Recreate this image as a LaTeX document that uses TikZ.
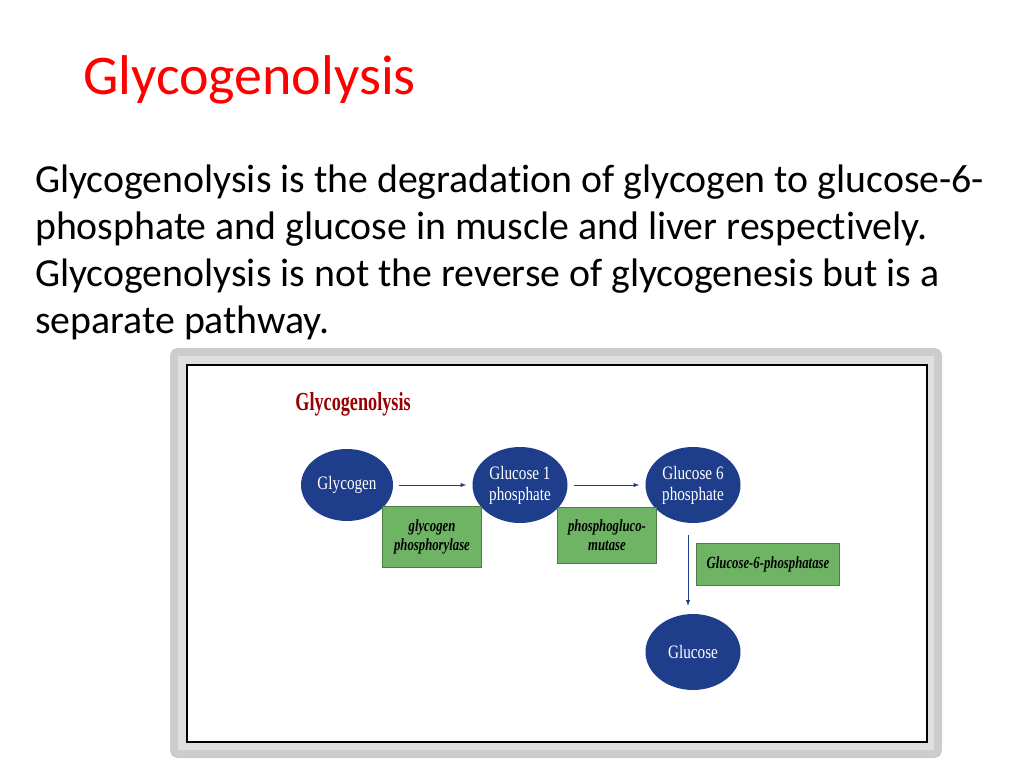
\documentclass[tikz,border=0pt]{standalone}
\usepackage{fontspec}
\setmainfont{Carlito}[RawFeature=-liga]
\newfontfamily\nar{Liberation Serif}
\definecolor{eb}{RGB}{30,62,140}
\definecolor{eg}{RGB}{110,180,100}
\begin{document}
\begin{tikzpicture}[x=1pt,y=-1pt,
 ell/.style={ellipse,fill=eb,minimum width=92pt,minimum height=72pt,text=white,font=\nar\fontsize{19}{21}\selectfont,align=center,inner sep=0pt},
 enz/.style={fill=eg,draw=eg!70!black,font=\nar\itshape\bfseries\fontsize{17}{19}\selectfont,align=center,inner sep=0pt},
 arr/.style={-latex,draw=eb,line width=1pt}]
\usetikzlibrary{shapes.geometric}
\useasboundingbox (0,0) rectangle (1024,768);
\node[anchor=west,text=red,font=\fontsize{56}{60}\selectfont,inner sep=0pt] (t) at (83,80) {Glycogenolysis};
\node[anchor=north west,align=left,font=\fontsize{39.8}{47}\selectfont,inner sep=0pt] (b) at (35,165) {Glycogenolysis is the degradation of glycogen to glucose-6-\\phosphate and glucose in muscle and liver respectively.\\Glycogenolysis is not the reverse of glycogenesis but is a\\separate pathway.};
\fill[gray!40,rounded corners=8pt] (170,348) rectangle (942,758);
\fill[gray!25] (178,356) rectangle (934,750);
\draw[line width=2pt,fill=white] (187,365) rectangle (927,742);
\node[text=red!60!black,font=\nar\bfseries\fontsize{26}{28}\selectfont,xscale=0.7] (it) at (353,404) {Glycogenolysis};
\node[ell] (g) at (347,485) {\scalebox{0.8}[1]{Glycogen}};
\node[ell,minimum width=95pt,minimum height=76pt] (g1) at (520,485) {\scalebox{0.8}[1]{Glucose 1}\\\scalebox{0.8}[1]{phosphate}};
\node[ell,minimum width=95pt,minimum height=76pt] (g6) at (693,485) {\scalebox{0.8}[1]{Glucose 6}\\\scalebox{0.8}[1]{phosphate}};
\node[ell,minimum width=95pt,minimum height=76pt] (gl) at (693,652) {\scalebox{0.8}[1]{Glucose}};
\node[enz,minimum width=99pt,minimum height=61pt] (e1) at (432,537) {\scalebox{0.75}[1]{glycogen}\\\scalebox{0.75}[1]{phosphorylase}};
\node[enz,minimum width=99pt,minimum height=56pt] (e2) at (607,535) {\scalebox{0.75}[1]{phosphogluco-}\\\scalebox{0.75}[1]{mutase}};
\node[enz,minimum width=143pt,minimum height=42pt] (e3) at (768,564) {\scalebox{0.75}[1]{Glucose-6-phosphatase}};
\draw[arr] ([xshift=6pt]g.east) -- ([xshift=-6pt]g1.west);
\draw[arr] ([xshift=6pt]g1.east) -- ([xshift=-6pt]g6.west);
\draw[arr] ([xshift=-5pt,yshift=-12pt]g6.south) -- ([xshift=-5pt,yshift=8pt]gl.north);
\end{tikzpicture}
\end{document}
